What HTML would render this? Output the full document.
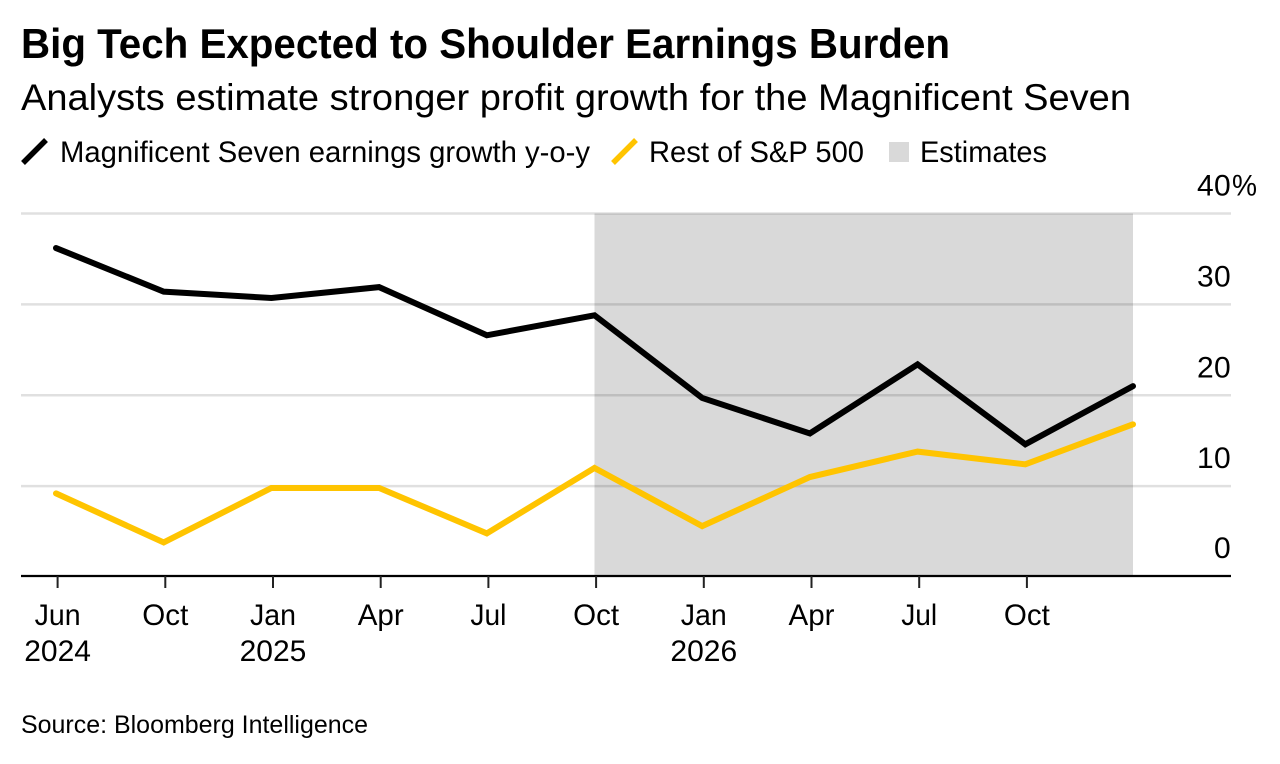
<!DOCTYPE html>
<html lang="en">
<head>
<meta charset="utf-8">
<title>Big Tech Expected to Shoulder Earnings Burden</title>
<style>
html,body{margin:0;padding:0;background:#fff;width:1280px;height:764px;overflow:hidden}
svg{display:block}
text{font-family:"Liberation Sans",sans-serif;fill:#000}
</style>
</head>
<body>
<svg id="chart" width="1280" height="764" viewBox="0 0 1280 764" xmlns="http://www.w3.org/2000/svg">
  <rect x="0" y="0" width="1280" height="764" fill="#fff"/>
  <text x="21" y="58" font-size="42" font-weight="700" textLength="929" lengthAdjust="spacingAndGlyphs">Big Tech Expected to Shoulder Earnings Burden</text>
  <text x="21" y="110" font-size="37" textLength="1110" lengthAdjust="spacingAndGlyphs">Analysts estimate stronger profit growth for the Magnificent Seven</text>

  <g>
    <line x1="23" y1="163" x2="46" y2="140" stroke="#000" stroke-width="5.5"/>
    <text x="60" y="162" font-size="30" textLength="530" lengthAdjust="spacingAndGlyphs">Magnificent Seven earnings growth y-o-y</text>
    <line x1="613" y1="163" x2="636" y2="140" stroke="#ffc400" stroke-width="5.5"/>
    <text x="649" y="162" font-size="30" textLength="215" lengthAdjust="spacingAndGlyphs">Rest of S&amp;P 500</text>
    <rect x="889" y="142" width="20" height="20" fill="#d9d9d9"/>
    <text x="920" y="162" font-size="30" textLength="127" lengthAdjust="spacingAndGlyphs">Estimates</text>
  </g>

  <g id="plot"></g>

  <text x="21" y="733" font-size="25" textLength="347" lengthAdjust="spacingAndGlyphs">Source: Bloomberg Intelligence</text>
</svg>

<script>
const categories = ["Jun 2024","Oct 2024","Jan 2025","Apr 2025","Jul 2025","Oct 2025","Jan 2026","Apr 2026","Jul 2026","Oct 2026","Dec 2026"];
const magnificentSeven = [36.2,31.4,30.7,31.9,26.6,28.8,19.7,15.8,23.4,14.6,21.0];
const restOfSP500 = [9.2,3.8,9.8,9.8,4.8,12.0,5.6,11.0,13.8,12.4,16.8];
const yTicks = [0,10,20,30,40];
const xTickMonths = ["Jun","Oct","Jan","Apr","Jul","Oct","Jan","Apr","Jul","Oct"];
const xTickYears = ["2024","","2025","","","","2026","","",""];
const estimatesStart = "Oct 2025";
const estimatesEnd = "Dec 2026";

const SVGNS = "http://www.w3.org/2000/svg";
const plot = document.getElementById("plot");

function xScale(i) {
  const x0 = 56, x1 = 1133;
  return x0 + (x1 - x0) * i / (categories.length - 1);
}
function yScale(v) {
  const y0 = 577, y40 = 213.5;
  return y0 + (y40 - y0) * v / 40;
}
function make(tag, attrs, parent) {
  const el = document.createElementNS(SVGNS, tag);
  for (const k in attrs) el.setAttribute(k, attrs[k]);
  parent.appendChild(el);
  return el;
}

const axisY = yScale(0) - 1;

// estimates shading
const shadeX0 = xScale(categories.indexOf(estimatesStart));
const shadeX1 = xScale(categories.indexOf(estimatesEnd));
const shade = make("rect", {x: shadeX0, y: yScale(40), width: shadeX1 - shadeX0, height: axisY - yScale(40), fill: "#d9d9d9"}, plot);



// gridlines and y labels
yTicks.forEach(function (t) {
  if (t !== 0) {
    const grid = make("line", {x1: 21, x2: 1231, y1: yScale(t), y2: yScale(t), stroke: "#e0e0e0", "stroke-width": 2.4, style: "mix-blend-mode:multiply"}, plot);
    
    
  }
  const labelY = yScale(t) - 18 - (t === 0 ? 1 : 0);
  const label = make("text", {x: 1231, y: labelY, "font-size": 30, "text-anchor": "end", "letter-spacing": 0.3}, plot);
  label.textContent = String(t);
  
  
  if (t === 40) {
    const pct = make("text", {x: 1232, y: labelY, "font-size": 30, "textLength": 25, "lengthAdjust": "spacingAndGlyphs"}, plot);
    pct.textContent = "%";
    
    
  }
});

// x axis
const axis = make("line", {x1: 21, x2: 1231, y1: axisY, y2: axisY, stroke: "#000", "stroke-width": 2.2}, plot);



xTickMonths.forEach(function (m, i) {
  const tx = xScale(i) + 1.6;
  const tick = make("line", {x1: tx, x2: tx, y1: axisY, y2: axisY + 12, stroke: "#222", "stroke-width": 2}, plot);
  
  
  const label = make("text", {x: tx, y: 625, "font-size": 30, "text-anchor": "middle", "textLength": m === "Jul" ? 36 : 46, "lengthAdjust": "spacingAndGlyphs"}, plot);
  label.textContent = m;
  
  
  if (xTickYears[i]) {
    const year = make("text", {x: tx, y: 661, "font-size": 30, "text-anchor": "middle"}, plot);
    year.textContent = xTickYears[i];
    
    
  }
});

// series lines
function linePoints(values) {
  return values.map(function (v, i) { return xScale(i) + "," + yScale(v); }).join(" ");
}
const lineBlack = make("polyline", {points: linePoints(magnificentSeven), fill: "none", stroke: "#000", "stroke-width": 6, "stroke-linejoin": "miter", "stroke-linecap": "round"}, plot);


const lineYellow = make("polyline", {points: linePoints(restOfSP500), fill: "none", stroke: "#ffc400", "stroke-width": 6, "stroke-linejoin": "miter", "stroke-linecap": "round"}, plot);


</script>
</body>
</html>
